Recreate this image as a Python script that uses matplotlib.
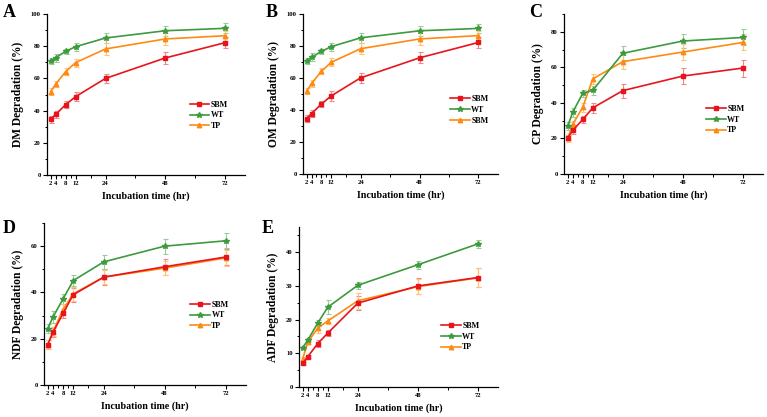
import matplotlib
matplotlib.use("Agg")
import matplotlib.pyplot as plt
from matplotlib.ticker import FixedLocator, MultipleLocator

plt.rcParams['font.family'] = ['Liberation Serif', 'DejaVu Serif']
plt.rcParams['font.weight'] = 'bold'

# incubation times (hr)
hours = [2, 4, 8, 12, 24, 48, 72]
series_names = ["SBM", "WT", "TP"]

# A - DM degradation
dm_sbm = [34.6, 37.7, 43.7, 48.7, 60.0, 72.7, 82.2]
dm_wt = [70.8, 72.9, 76.8, 79.7, 85.1, 89.6, 91.1]
dm_tp = [51.8, 56.5, 64.2, 69.8, 78.3, 84.5, 86.5]
dm_sbm_err = [2.0, 2.0, 2.0, 3.0, 3.0, 3.5, 3.5]
dm_wt_err = [2.0, 2.5, 1.5, 2.5, 3.0, 3.0, 3.0]
dm_tp_err = [2.0, 2.0, 2.0, 2.5, 3.5, 3.5, 3.0]

# B - OM degradation
om_sbm = [34.6, 37.8, 43.7, 48.8, 60.1, 72.6, 82.2]
om_wt = [70.8, 72.9, 76.6, 79.6, 85.1, 89.5, 91.0]
om_tp = [51.8, 56.6, 64.2, 69.8, 78.3, 84.4, 86.5]
om_sbm_err = [2.0, 2.0, 2.0, 3.0, 3.0, 3.5, 3.5]
om_wt_err = [2.0, 2.5, 1.5, 2.5, 3.0, 3.0, 3.0]
om_tp_err = [2.0, 2.0, 2.0, 2.5, 3.5, 3.5, 3.0]

# C - CP degradation
cp_sbm = [20.4, 24.5, 30.7, 37.2, 46.9, 55.1, 59.6]
cp_wt = [27.0, 34.8, 45.4, 47.1, 67.9, 74.8, 76.8]
cp_tp = [20.0, 28.0, 37.6, 53.5, 63.2, 68.6, 74.0]
cp_sbm_err = [1.5, 2.0, 2.0, 3.0, 4.0, 4.5, 4.8]
cp_wt_err = [2.5, 2.5, 2.0, 2.5, 4.0, 4.0, 4.5]
cp_tp_err = [2.0, 2.0, 2.5, 3.0, 4.0, 4.5, 4.5]

# D - NDF degradation
ndf_sbm = [17.5, 22.7, 30.9, 39.0, 46.6, 51.1, 55.3]
ndf_wt = [24.4, 29.3, 37.2, 45.1, 53.2, 60.0, 62.3]
ndf_tp = [17.5, 23.0, 32.6, 39.4, 46.6, 50.5, 54.9]
ndf_sbm_err = [2.0, 2.0, 2.0, 3.0, 3.5, 3.5, 3.5]
ndf_wt_err = [2.0, 2.5, 2.0, 2.5, 3.0, 3.3, 3.3]
ndf_tp_err = [2.0, 2.0, 2.5, 3.0, 3.0, 3.0, 3.5]

# E - ADF degradation
adf_sbm = [7.0, 9.0, 12.9, 16.0, 24.9, 30.0, 32.5]
adf_wt = [11.7, 13.9, 19.0, 23.7, 30.2, 36.3, 42.5]
adf_tp = [8.4, 13.3, 17.5, 19.6, 25.6, 29.8, 32.4]
adf_sbm_err = [0.5, 0.5, 1.0, 1.0, 2.0, 2.5, 2.8]
adf_wt_err = [0.5, 0.5, 1.0, 2.0, 1.0, 1.2, 1.2]
adf_tp_err = [0.5, 0.5, 1.5, 1.0, 2.3, 2.3, 2.8]

colors = ["#e8141c", "#3d9a3d", "#ff8a12"]
err_colors = ["#f08a8a", "#98cc98", "#ffc27a"]
markers = ["s", "*", "^"]

W, H = 767, 417
fig = plt.figure(figsize=(W / 100, H / 100), dpi=100)


def px_axes(left, right, top, bottom):
    return fig.add_axes([left / W, 1 - bottom / H, (right - left) / W, (bottom - top) / H])


panels = [
    # letter, ylabel, data, errors, labels, ylim, major, minor, box(px), letter pos, legend anchor
    ("A", "DM Degradation (%)", [dm_sbm, dm_wt, dm_tp], [dm_sbm_err, dm_wt_err, dm_tp_err],
     ["SBM", "WT", "TP"], 100, 20, 10, (47, 245, 14, 175), (3, 17), (0.72, 0.37)),
    ("B", "OM Degradation (%)", [om_sbm, om_wt, om_tp], [om_sbm_err, om_wt_err, om_tp_err],
     ["SBM", "WT", "SBM"], 100, 20, 10, (303, 498, 14, 174), (266, 17), (0.755, 0.40)),
    ("C", "CP Degradation (%)", [cp_sbm, cp_wt, cp_tp], [cp_sbm_err, cp_wt_err, cp_tp_err],
     ["SBM", "WT", "TP"], 90, 20, 10, (564, 763, 14, 174), (529, 17), (0.715, 0.34)),
    ("D", "NDF Degradation (%)", [ndf_sbm, ndf_wt, ndf_tp], [ndf_sbm_err, ndf_wt_err, ndf_tp_err],
     ["SBM", "WT", "TP"], 70, 20, 10, (44, 246, 223, 385), (3, 233), (0.725, 0.43)),
    ("E", "ADF Degradation (%)", [adf_sbm, adf_wt, adf_tp], [adf_sbm_err, adf_wt_err, adf_tp_err],
     ["SBM", "WT", "TP"], 47.5, 10, 5, (299, 498, 227, 387), (262, 233), (0.715, 0.315)),
]

for letter, ylabel, data, errs, labels, ytop, major, minor, box, lpos, leg in panels:
    ax = px_axes(*box)
    for k in range(3):
        # error bars first, then the line with markers on top
        ax.errorbar(hours, data[k], yerr=errs[k], fmt="none", ecolor=err_colors[k],
                    elinewidth=0.8, capsize=1.8, capthick=0.8, zorder=2)
        ax.plot(hours, data[k], color=colors[k], lw=1.2, marker=markers[k],
                ms=3.8 if markers[k] == "*" else 3.2, label=labels[k], zorder=3 - k * 0.1)
    ax.set_xlim(0.5, 80)
    ax.set_ylim(0, ytop)
    ax.set_xticks(hours)
    ax.xaxis.set_minor_locator(FixedLocator([6, 10, 18, 36, 60]))
    ax.yaxis.set_major_locator(MultipleLocator(major))
    ax.yaxis.set_minor_locator(MultipleLocator(minor))
    for s in ["top", "right"]:
        ax.spines[s].set_visible(False)
    for s in ["left", "bottom"]:
        ax.spines[s].set_linewidth(0.9)
    ax.tick_params(which="major", direction="out", length=3, width=0.8, labelsize=4.8, pad=1.5)
    ax.tick_params(which="minor", direction="out", length=1.8, width=0.7)
    for t in ax.get_xticklabels() + ax.get_yticklabels():
        t.set_fontweight("bold")
    ax.set_xlabel("Incubation time (hr)", fontsize=7.2, fontweight="bold", labelpad=4)
    ax.set_ylabel(ylabel, fontsize=8.3, fontweight="bold", labelpad=5)
    ax.legend(loc="center left", bbox_to_anchor=leg, frameon=False, fontsize=5.8,
              handlelength=2.4, handletextpad=0.2, labelspacing=0.35, borderaxespad=0,
              borderpad=0)
    fig.text(lpos[0] / W, 1 - lpos[1] / H, letter, fontsize=13, fontweight="bold",
             ha="left", va="baseline")

fig.savefig("out.png", dpi=100)
